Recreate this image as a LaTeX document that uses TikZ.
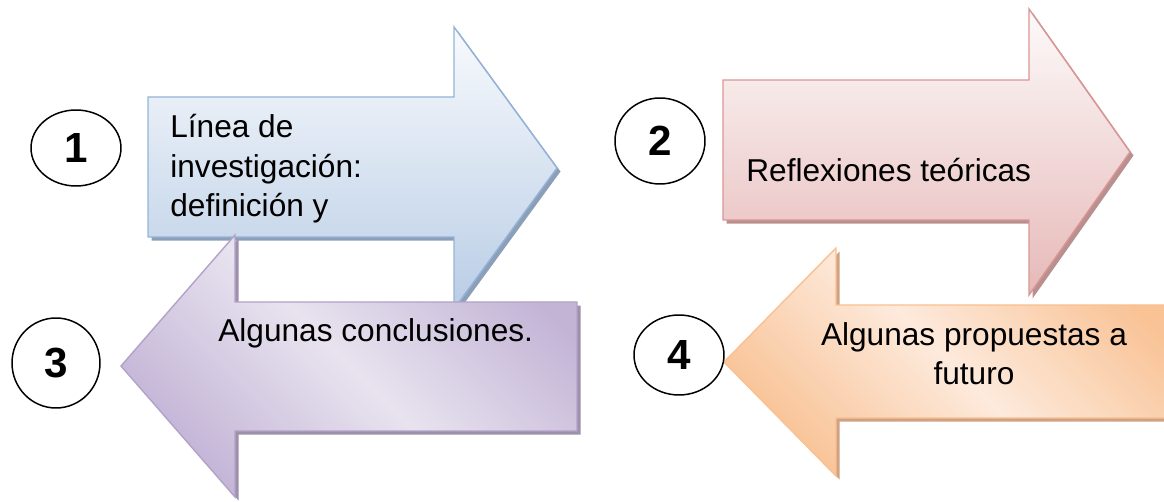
\documentclass[tikz,border=0pt]{standalone}
\usepackage{fontspec}
\setmainfont{Liberation Sans}
\usetikzlibrary{shapes.geometric,shadows}

\begin{document}
\begin{tikzpicture}[
        x=0.02cm,
        y=-0.02cm,
        numcirc/.style={
            ellipse,
            draw,
            fill=white,
            line width=0.85pt,
            inner sep=0pt,
            font=\fontsize{24pt}{28pt}\selectfont\bfseries
          },
        boxtext/.style={
            inner sep=0pt,
            font=\fontsize{18pt}{22.7pt}\selectfont
          },
        arrowbase/.style={
            line width=0.8pt,
            line join=miter
          },
        bluearrow/.style={
            arrowbase,
            draw=blueline,
            top color=bluetop,
            bottom color=bluebot,
            drop shadow={shadow xshift=2pt, shadow yshift=-2pt, fill=blueshadow, opacity=1}
          },
        pinkarrow/.style={
            arrowbase,
            draw=pinkline,
            top color=pinktop,
            bottom color=pinkbot,
            drop shadow={shadow xshift=2pt, shadow yshift=-2pt, fill=pinkshadow, opacity=1}
          },
        purparrow/.style={
            arrowbase,
            draw=purpline,
            top color=purpdark,
            bottom color=purpdark,
            middle color=purplight,
            shading angle=-45,
            drop shadow={shadow xshift=2pt, shadow yshift=-2pt, fill=purpshadow, opacity=1}
          },
        orangearrow/.style={
            arrowbase,
            draw=orangeline,
            top color=orangedark,
            bottom color=orangedark,
            middle color=orangelight,
            shading angle=-45,
            drop shadow={shadow xshift=2pt, shadow yshift=-2pt, fill=orangeshadow, opacity=1}
          }]
        % Define colors
        \definecolor{blueline}{HTML}{95B3D7}
        \definecolor{bluetop}{HTML}{F8FAFD}
        \definecolor{bluebot}{HTML}{B9CDE5}
        \definecolor{blueshadow}{HTML}{8C9FB8}
        \definecolor{pinkline}{HTML}{D99694}
        \definecolor{pinktop}{HTML}{FDFAFA}
        \definecolor{pinkbot}{HTML}{E6B9B8}
        \definecolor{pinkshadow}{HTML}{B8908F}
        \definecolor{purpline}{HTML}{B3A2C7}
        \definecolor{purpdark}{HTML}{C3B4D6}
        \definecolor{purplight}{HTML}{E8E3EF}
        \definecolor{purpshadow}{HTML}{9C90AB}
        \definecolor{orangeline}{HTML}{FAC090}
        \definecolor{orangedark}{HTML}{F9C396}
        \definecolor{orangelight}{HTML}{FDEADC}
        \definecolor{orangeshadow}{HTML}{CFA283}

        \useasboundingbox (0,0) rectangle (1164,502);

        % Draw arrows
        \draw[bluearrow] (148,97) -- (454,97) -- (454,27) -- (557,168)
            -- (454,309) -- (454,237) -- (148,237) -- cycle;
        \draw[pinkarrow] (723,80) -- (1029,80) -- (1029,9) -- (1130,152)
            -- (1029,295) -- (1029,220) -- (723,220) -- cycle;
        \draw[purparrow] (577,302) -- (235,302) -- (235,235) -- (121,366)
            -- (235,497) -- (235,431) -- (577,431) -- cycle;
        \draw[orangearrow] (1175,305) -- (836,305) -- (836,248) -- (724,362)
            -- (836,476) -- (836,418) -- (1175,418) -- cycle;

        % Label arrows
        \node[boxtext, align=left, anchor=base west] (t1) at (170,217)
            {Línea de\\investigación:\\definición y};
        \node[boxtext, anchor=base west] (t2) at (746,182) {Reflexiones teóricas};
        \node[boxtext, anchor=base west] (t3) at (218,342) {Algunas conclusiones.};
        \node[boxtext, align=center, anchor=base] (t4) at (974,385)
            {Algunas propuestas a\\futuro};

        % Draw numbers
        \node[numcirc, minimum width=1.8cm, minimum height=1.52cm] (c1) at (76,148) {1};
        \node[numcirc, minimum width=1.8cm, minimum height=1.72cm] (c2) at (660,141) {2};
        \node[numcirc, minimum width=1.76cm, minimum height=1.8cm] (c3) at (56,363) {3};
        \node[numcirc, minimum width=1.8cm, minimum height=1.6cm] (c4) at (679,355) {4};
    \end{tikzpicture}
\end{document}
